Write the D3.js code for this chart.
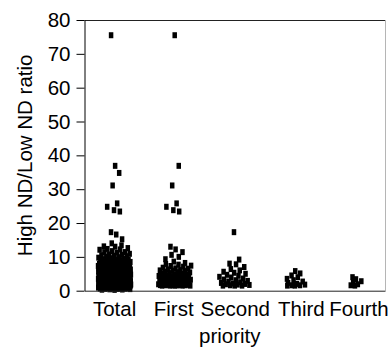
<!DOCTYPE html>
<html>
<head>
<meta charset="utf-8">
<script src="https://cdn.jsdelivr.net/npm/d3@7"></script>
<style>
  html, body { margin: 0; padding: 0; background: #fff; }
  svg { display: block; }
  text { font-family: "Liberation Sans", Arial, sans-serif; fill: #000; }
</style>
</head>
<body>
<svg id="chart" width="391" height="348"></svg>
<script>
// ---- data ----
const categories = ["Total", "First", "Second", "Third", "Fourth"];
const yTicks = [0, 10, 20, 30, 40, 50, 60, 70, 80];

const firstValues = [75.5, 36.9, 31.1, 25.8, 24.8, 23.8, 23.4, 13.0, 12.2, 11.4, 10.6, 10.0, 9.3,
  8.6, 8.2, 7.9, 7.7, 7.4, 7.1, 6.8, 6.5, 6.3, 6.0, 5.8, 5.6, 5.4, 5.2, 5.0, 4.8, 4.6, 4.5, 4.3,
  4.1, 4.0, 3.8, 3.7, 3.5, 3.4, 3.3, 3.1, 3.0, 2.9, 2.8, 2.7, 2.6, 2.5, 2.4, 2.3, 2.2, 2.1, 2.0,
  2.0, 1.9, 1.9, 1.8, 1.8, 1.7, 1.7, 1.6, 1.6, 1.6, 1.5, 1.5, 1.5, 1.5, 1.5, 2.3, 2.9, 3.6, 4.2,
  5.1, 6.1, 1.55, 1.65, 1.75, 1.85, 2.05, 2.25, 2.45, 2.65, 2.85, 3.25, 3.45, 3.95, 4.35, 4.75,
  5.45, 5.95, 6.6, 7.3];
const secondValues = [17.3, 9.2, 8.0, 7.8, 7.0, 6.4, 6.0, 5.6, 5.3, 5.0, 4.7, 4.4, 4.1, 3.9, 3.6,
  3.3, 3.1, 2.9, 2.7, 2.5, 2.3, 2.1, 2.0, 1.9, 1.8, 1.7, 1.6, 1.5, 1.5, 1.5];
const thirdValues = [5.8, 5.1, 4.5, 4.0, 3.5, 3.1, 2.7, 2.3, 2.0, 1.8, 1.6, 1.5, 1.5, 1.6];
const fourthValues = [4.0, 3.4, 2.8, 2.3, 1.9, 1.6, 1.5];
// entries counted only in Total (no priority assigned)
const otherValues = [34.8, 16.6, 15.2, 14.0, 13.4, 13.1, 12.6, 12.1, 11.7, 11.2, 10.9, 10.5, 10.2,
  9.9, 9.6, 9.3, 9.0, 8.7, 8.5, 8.1, 7.9, 7.6, 7.4,
  0.3, 0.52, 0.61, 0.83, 0.94, 1.02, 1.13, 1.21, 1.34, 1.42, 0.41, 0.72, 1.05, 1.23, 0.55, 0.91,
  1.31, 0.64, 1.12, 0.81, 0.35, 0.47, 0.68, 0.77, 0.88, 0.97, 1.08, 1.17, 1.27, 1.38, 1.46,
  0.25, 0.58, 0.86, 1.16, 1.44,
  1.53, 1.71, 1.94, 2.12, 2.33, 2.51, 2.74, 2.92, 3.13, 3.31, 3.52, 3.74, 3.91, 4.12, 4.33, 4.54,
  4.71, 4.93, 5.12, 5.31, 5.54, 5.72, 5.93, 6.11, 6.34, 6.52, 6.71, 6.93,
  1.62, 2.04, 2.43, 2.81, 3.22, 3.63, 4.02, 4.41, 4.83, 5.21, 5.62, 6.03, 6.42, 6.81, 7.12,
  1.83, 2.21, 2.62, 3.04, 3.41, 3.82, 4.23, 4.62, 5.03, 5.42, 5.81, 6.22, 6.63, 7.02,
  1.51, 1.92, 2.32, 2.73, 3.12, 3.51, 3.93, 4.31, 4.72, 5.13, 5.52, 5.91, 6.32, 6.72, 7.31,
  2.14, 2.93, 3.72, 4.51, 5.33, 6.12, 6.94, 7.52, 7.73, 7.91, 8.12, 8.43, 8.82, 9.13,
  1.57, 1.78, 2.07, 2.28, 2.47, 2.68, 2.87, 3.08, 3.27, 3.47, 3.68, 3.86, 4.07, 4.27, 4.48,
  4.67, 4.88, 5.07, 5.27, 5.48, 5.67, 5.87, 6.07, 6.27, 6.47, 6.67, 6.86, 7.06, 7.24,
  1.66, 1.98, 2.37, 2.77, 3.17, 3.57, 3.97, 4.37, 4.77, 5.17, 5.57, 5.97, 6.37, 6.77, 7.17,
  1.74, 2.18, 2.56, 2.96, 3.36, 3.76, 4.16, 4.56, 4.96, 5.36, 5.76, 6.16, 6.56, 6.96, 7.42,
  1.88, 2.26, 2.66, 3.06, 3.46, 3.86, 4.26, 4.66, 5.06, 5.46, 5.86, 6.26, 6.66, 7.08,
  7.64, 7.84, 8.04, 8.32, 8.64, 8.96, 9.42, 9.76, 10.34, 10.72, 11.42, 12.34];
const totalValues = otherValues.concat(firstValues, secondValues, thirdValues, fourthValues);

const seriesByCategory = {
  Total: totalValues,
  First: firstValues,
  Second: secondValues,
  Third: thirdValues,
  Fourth: fourthValues
};

// ---- layout ----
const plot = { left: 84.5, right: 385, top: 20, bottom: 290.7 };
const jitterHalf = { Total: 16.5, First: 16.5, Second: 15.5, Third: 12, Fourth: 9 };
const labelShift = { Total: 0, First: -1, Second: 0.5, Third: 6.5, Fourth: 4 };
const markW = 4.5, markH = 6;
const fontSize = 20.5;

const svg = d3.select("#chart");

const x = d3.scaleBand().domain(categories).range([plot.left, plot.right]).padding(0);
const y = d3.scaleLinear().domain([0, 80]).range([plot.bottom, plot.top]);

// frame (top dark, right light)
svg.append("line").attr("x1", plot.left).attr("x2", plot.right)
  .attr("y1", plot.top + 0.5).attr("y2", plot.top + 0.5)
  .attr("stroke", "#222").attr("stroke-width", 1);
svg.append("line").attr("x1", plot.right + 0.5).attr("x2", plot.right + 0.5)
  .attr("y1", plot.top).attr("y2", plot.bottom)
  .attr("stroke", "#b5b5b5").attr("stroke-width", 1);

// points: low-discrepancy jitter assigned by value rank; spread grows with local density
const pts = [];
categories.forEach(cat => {
  const vals = seriesByCategory[cat];
  const sorted = vals.slice().sort((a, b) => a - b);
  sorted.forEach((v, r) => {
    const count = sorted.filter(w => Math.abs(w - v) <= 1.5).length;
    const amp = jitterHalf[cat] * Math.min(1, 0.25 + count / 14);
    const f = ((r * 0.6180339887 + 0.5) % 1) - 0.5;
    pts.push({ cat, v, dx: f * 2 * amp });
  });
});
svg.append("g").selectAll("rect").data(pts).join("rect")
  .attr("x", d => x(d.cat) + x.bandwidth() / 2 + d.dx - markW / 2)
  .attr("y", d => y(d.v) - markH / 2)
  .attr("width", markW).attr("height", markH)
  .attr("fill", "#000");

// y axis
const yAxis = svg.append("g").attr("transform", `translate(${plot.left},0)`)
  .call(d3.axisLeft(y).tickValues(yTicks).tickSize(8).tickSizeOuter(0).tickPadding(6));
yAxis.selectAll("text").style("font-size", fontSize + "px")
  .style("font-family", '"Liberation Sans", Arial, sans-serif').attr("fill", "#000");
yAxis.select(".domain").attr("stroke", "#000");
yAxis.selectAll(".tick line").attr("stroke", "#000");

// x axis
const xAxis = svg.append("g").attr("transform", `translate(0,${plot.bottom})`)
  .call(d3.axisBottom(x).tickSize(0).tickSizeOuter(0).tickPadding(11));
xAxis.select(".domain").attr("stroke", "#222");
xAxis.selectAll("text").style("font-size", fontSize + "px")
  .style("font-family", '"Liberation Sans", Arial, sans-serif').attr("fill", "#000")
  .attr("dx", d => labelShift[d]);

// axis titles
svg.append("text").attr("x", (plot.left + plot.right) / 2 - 5).attr("y", 343)
  .attr("text-anchor", "middle").style("font-size", fontSize + "px").text("priority");
svg.append("text")
  .attr("transform", `translate(32,${(plot.top + plot.bottom) / 2}) rotate(-90)`)
  .attr("text-anchor", "middle").style("font-size", fontSize + "px")
  .text("High ND/Low ND ratio");
</script>
</body>
</html>
